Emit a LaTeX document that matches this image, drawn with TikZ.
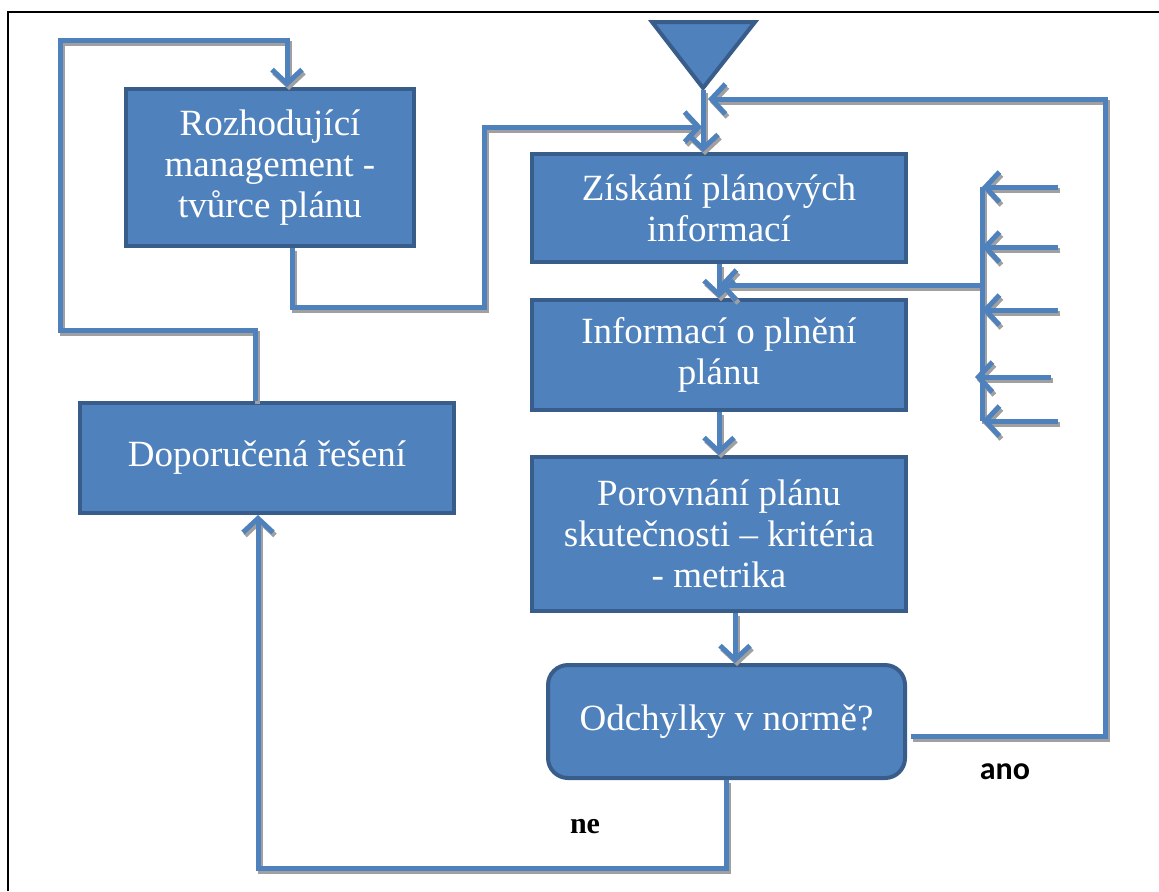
\documentclass[tikz,border=0pt]{standalone}
\usepackage{fontspec}
\setmainfont{Liberation Serif}
\newfontfamily\carlito{Carlito}
\usepackage{tikz}
\usetikzlibrary{arrows.meta, positioning, calc}
\definecolor{boxFill}{RGB}{79,129,189}
\definecolor{boxBorder}{RGB}{56,93,138}
\definecolor{shadowGray}{RGB}{160,160,160}
\newcommand{\barvaSpoje}{boxFill}

\tikzset{
  blok/.style={draw=boxBorder, line width=2pt, fill=boxFill, text=white, align=center,
    font=\fontsize{18.5}{20.5}\selectfont, inner sep=2pt},
  spoj/.style={draw=\barvaSpoje, line width=2.5pt},
  sipka/.style={spoj, -{Straight Barb[length=7pt,width=15pt]}}
}

% all connectors, drawn twice (shadow + line)
\newcommand{\spojnice}{%
    % Main flow
    \draw[sipka] (vrchol) -- (vrchol |- ziskani.north);
    \draw[sipka] (ziskani.south) -- (informace.north);
    \draw[sipka] (informace.south) -- (informace.south |- porovnani.north);
    \draw[sipka] ([xshift=8pt]porovnani.south) -- ([xshift=8pt]porovnani.south |- odchylky.north);
    % Management into the flow
    \draw[sipka] ([xshift=11pt]rozhod.south) -- ++(0,59) -| (484,127) -- ($(vrchol |- 0,127)+(-1,0)$);
    % ano - back to start
    \draw[sipka] ($(odchylky.east)+(4,15)$) -| (1105,99) -- ($(vrchol |- 0,99)+(5,0)$);
    % ne - recommended solutions
    \draw[sipka] (odchylky.south) -- ++(0,88) -| ([xshift=-4.5pt]doporuc.south);
    \draw[sipka] ([xshift=-6pt]doporuc.north) -- ++(0,-71) -| (60,40) -| ([xshift=8.5pt]rozhod.north);
    % Outside inputs
    \draw[spoj] (982,187) -- (982,421);
    \draw[sipka] (sbernice) -- (sbernice -| ziskani.south);
    \foreach \y/\a/\b in {187/1058/982, 247/1058/982, 310/1058/982, 377/1051/975, 421/1058/982}
        \draw[sipka] (\a,\y) -- (\b,\y);
}

\begin{document}
\begin{tikzpicture}[x=0.5pt, y=-0.5pt]
    \useasboundingbox (0,0) rectangle (1159,891);

    % Frame
    \draw[black, line width=1pt] (8,891) -- (8,12) -- (1159,12);

    % Left column
    \node[blok, minimum width=144pt, minimum height=78.5pt] (rozhod) at (270,167.5) {Rozhodující\\management -\\tvůrce plánu};
    \node[blok, minimum width=187pt, minimum height=55pt] (doporuc) at (267,458) {Doporučená řešení};

    % Right column
    \node[blok, minimum width=187pt, minimum height=54pt] (ziskani) at (719,208) {Získání plánových\\informací};
    \node[blok, minimum width=187pt, minimum height=55pt] (informace) at (719,355) {Informací o plnění\\plánu};
    \node[blok, minimum width=187pt, minimum height=77pt] (porovnani) at (719,534) {Porovnání plánu\\skutečnosti -- kritéria\\- metrika};
    \node[blok, rounded corners=10pt, minimum width=178.5pt, minimum height=56.5pt] (odchylky) at (726.5,721.5) {Odchylky v normě?};

    % Start triangle
    \filldraw[fill=boxFill, draw=boxBorder, line width=2pt] (652,22) -- (755,22) -- (703,88) -- cycle;
    \coordinate (vrchol) at (703,90);
    \coordinate (sbernice) at (982,285);

    % Connectors: shadow first, then line
    \begin{scope}[transform canvas={xshift=1pt, yshift=-1.5pt}]
        \renewcommand{\barvaSpoje}{shadowGray}
        \spojnice
    \end{scope}
    \spojnice

    % Labels
    \node[font=\carlito\bfseries\fontsize{16}{18}\selectfont] (ano) at (1005,772) {ano};
    \node[font=\bfseries\fontsize{15}{17}\selectfont] (ne) at (585,827) {ne};

\end{tikzpicture}
\end{document}
